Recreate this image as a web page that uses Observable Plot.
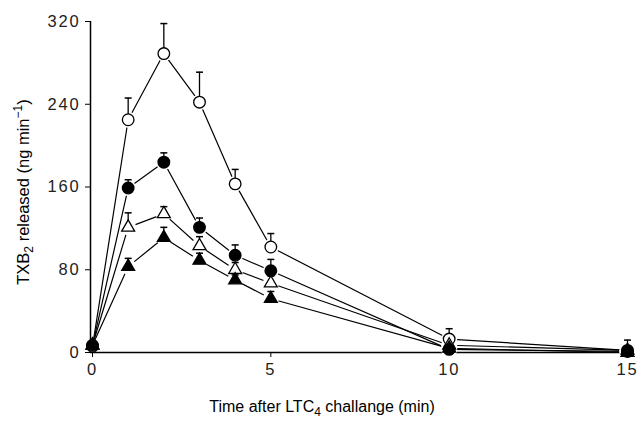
<!DOCTYPE html>
<html>
<head>
<meta charset="utf-8">
<script src="https://cdn.jsdelivr.net/npm/d3@7"></script>
<script src="https://cdn.jsdelivr.net/npm/@observablehq/plot@0.6"></script>
<style>
  html, body { margin: 0; padding: 0; background: #fff; }
  svg { font-family: "Liberation Sans", Arial, Helvetica, sans-serif; }
</style>
</head>
<body>
<div id="chart"></div>
<script>
// Time after LTC4 challenge (min)
const time = [0, 1, 2, 3, 4, 5, 10, 15];
// TXB2 released (ng/min), mean and upper error (SEM)
const openCircle     = [6, 225, 289, 242, 163, 102, 13, 2];
const openCircleErr  = [0, 21, 29, 29, 14, 13, 10, 10];
const filledCircle   = [7, 159, 184, 121, 94, 79, 3, 1];
const filledCircleErr= [0, 8, 9, 9, 10, 11, 0, 0];
const openTri        = [7, 121, 134, 103, 80, 67, 7, 2];
const openTriErr     = [0, 14, 7, 9, 7, 7, 0, 0];
const filledTri      = [7, 83, 111, 89, 70, 52, 4, 0];
const filledTriErr   = [0, 8, 10, 7, 5, 7, 0, 0];
const xTicks = [0, 5, 10, 15];
const yTicks = [0, 80, 160, 240, 320];

const seriesDefs = [
  {name: "openCircle", values: openCircle, err: openCircleErr, symbol: "circle", fill: "white", r: 5.8},
  {name: "openTri", values: openTri, err: openTriErr, symbol: "triangle", fill: "white", r: 4.8},
  {name: "filledTri", values: filledTri, err: filledTriErr, symbol: "triangle", fill: "black", r: 4.8},
  {name: "filledCircle", values: filledCircle, err: filledCircleErr, symbol: "circle", fill: "black", r: 5.8}
];

const rows = seriesDefs.flatMap(s => time.map((t, i) => ({
  series: s.name, t, v: s.values[i], top: s.values[i] + s.err[i], hasErr: s.err[i] > 0,
  symbol: s.symbol, fill: s.fill, r: s.r
})));
const errRows = rows.filter(d => d.hasErr);

const capSymbol = {
  draw(context, size) {
    context.moveTo(-3.5, 0);
    context.lineTo(3.5, 0);
  }
};

const marks = [
  Plot.ruleY([0], {stroke: "black", strokeWidth: 1.5}),
  Plot.ruleX([0], {dx: -2, stroke: "black", strokeWidth: 1.5}),
  Plot.axisY({ticks: yTicks, tickSize: 5, tickPadding: 5, fontSize: 16.5, label: null, tickFormat: d => d, anchor: "left"}),
  Plot.axisX({ticks: xTicks, tickSize: 5, tickPadding: 6, fontSize: 16.5, label: null, tickFormat: d => d}),
  ...seriesDefs.map(s => Plot.line(rows.filter(d => d.series === s.name), {x: "t", y: "v", stroke: "black", strokeWidth: 1.2})),
  Plot.dot(rows.filter(d => d.t > 0), {x: "t", y: "v", r: 8, fill: "white", stroke: null}),
  Plot.ruleX(errRows, {x: "t", y1: "v", y2: "top", stroke: "black", strokeWidth: 1.3}),
  Plot.dot(errRows, {x: "t", y: "top", symbol: capSymbol, r: 3, stroke: "black", strokeWidth: 1.5, fill: "none"}),
  ...seriesDefs.map(s => Plot.dot(rows.filter(d => d.series === s.name), {
    x: "t", y: "v", symbol: s.symbol, r: s.r, fill: s.fill, stroke: "black", strokeWidth: 1.3
  }))
];

const chart = Plot.plot({
  width: 643,
  height: 421,
  marginLeft: 90,
  marginRight: 16,
  marginTop: 21,
  marginBottom: 69,
  style: {fontFamily: '"Liberation Sans", Arial, Helvetica, sans-serif', color: "black", background: "white"},
  x: {domain: [0, 15], range: [92, 627]},
  y: {domain: [0, 320]},
  marks
});

const svg = d3.select(chart);
svg.selectAll("text").attr("letter-spacing", "1.8").attr("fill", "#222");

// Axis titles with subscripts / superscripts
const yt = svg.append("text")
  .attr("transform", "translate(29,192) rotate(-90)")
  .attr("text-anchor", "middle")
  .attr("font-size", 16.5)
  .attr("fill", "black");
yt.append("tspan").text("TXB");
yt.append("tspan").attr("font-size", 12).attr("dy", 4).text("2");
yt.append("tspan").attr("dy", -4).text(" released (ng min");
yt.append("tspan").attr("font-size", 12).attr("dy", -7).text("\u22121");
yt.append("tspan").attr("dy", 7).text(")");

const xt = svg.append("text")
  .attr("x", 322).attr("y", 412)
  .attr("text-anchor", "middle")
  .attr("font-size", 16)
  .attr("fill", "black");
xt.append("tspan").text("Time after LTC");
xt.append("tspan").attr("font-size", 12).attr("dy", 4).text("4");
xt.append("tspan").attr("dy", -4).text(" challange (min)");

document.getElementById("chart").appendChild(chart);
</script>
</body>
</html>
